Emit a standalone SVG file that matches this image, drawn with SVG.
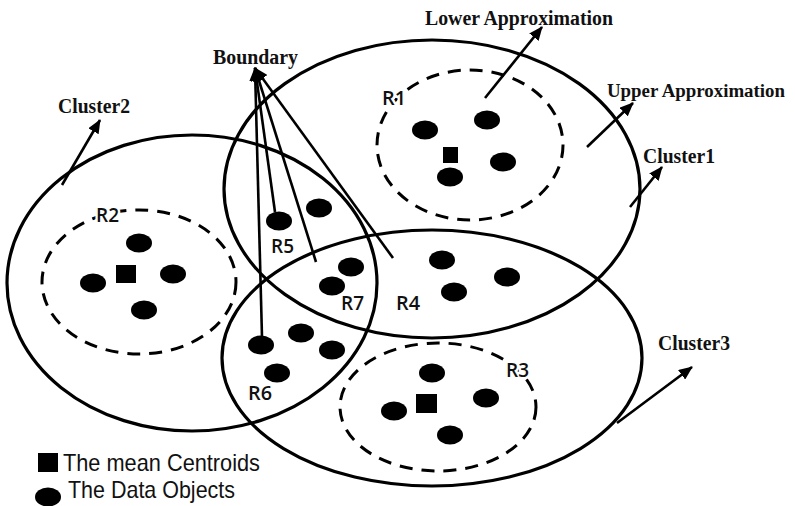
<svg xmlns="http://www.w3.org/2000/svg" width="795" height="506" viewBox="0 0 795 506">
<style>
.cl{fill:none;stroke:#000;stroke-width:3.2}
.dash{fill:none;stroke:#000;stroke-width:3;stroke-dasharray:13 9}
.dot{fill:#000}
.ln{stroke:#000;stroke-width:2.6;fill:none}
.lbl{font-family:"Liberation Serif","Times New Roman",serif;font-weight:bold;font-size:20px;fill:#111}
.r{font-family:"Open Sans","DejaVu Sans",sans-serif;font-weight:600;font-size:20px;fill:#111;stroke:#fff;stroke-width:5;paint-order:stroke;stroke-linejoin:round}
.leg{font-family:"Liberation Sans",Arial,sans-serif;font-size:24px;fill:#111}
</style>
<defs>
<marker id="ah" markerUnits="userSpaceOnUse" markerWidth="14" markerHeight="12" viewBox="0 0 14 12" refX="13" refY="6" orient="auto">
<path d="M0,0 L14,6 L0,12 z" fill="#000"/>
</marker>
</defs>
<rect width="795" height="506" fill="#fff"/>
<g id="cluster1"><ellipse class="cl" cx="432" cy="189" rx="208" ry="149"/></g>
<g id="cluster2"><ellipse class="cl" cx="192" cy="283" rx="185" ry="148"/></g>
<g id="cluster3"><ellipse class="cl" cx="432" cy="358" rx="210" ry="128"/></g>
<g id="R1">
<ellipse class="dash" cx="470" cy="145" rx="93" ry="75"/>
<rect x="443" y="147" width="15" height="16" fill="#000"/>
<ellipse class="dot" cx="425" cy="130" rx="13" ry="9.5"/>
<ellipse class="dot" cx="487" cy="120" rx="13" ry="9.5"/>
<ellipse class="dot" cx="503" cy="162" rx="13" ry="9.5"/>
<ellipse class="dot" cx="450" cy="177" rx="13" ry="9.5"/>
<text class="r" x="382" y="105" textLength="24" lengthAdjust="spacingAndGlyphs">R1</text>
</g>
<g id="R2">
<ellipse class="dash" cx="139" cy="282" rx="97" ry="72"/>
<rect x="116" y="265" width="20" height="18" fill="#000"/>
<ellipse class="dot" cx="139" cy="243" rx="13" ry="9.5"/>
<ellipse class="dot" cx="93" cy="283" rx="13" ry="9.5"/>
<ellipse class="dot" cx="173" cy="274" rx="13" ry="9.5"/>
<ellipse class="dot" cx="144" cy="310" rx="13" ry="9.5"/>
<text class="r" x="96" y="222" textLength="23" lengthAdjust="spacingAndGlyphs">R2</text>
</g>
<g id="R3">
<ellipse class="dash" cx="438" cy="407" rx="98" ry="64"/>
<rect x="416" y="394" width="21" height="19" fill="#000"/>
<ellipse class="dot" cx="432" cy="373" rx="13" ry="9.5"/>
<ellipse class="dot" cx="486" cy="398" rx="13" ry="9.5"/>
<ellipse class="dot" cx="450" cy="435" rx="13" ry="9.5"/>
<ellipse class="dot" cx="394" cy="411" rx="13" ry="9.5"/>
<text class="r" x="506" y="377" textLength="23" lengthAdjust="spacingAndGlyphs">R3</text>
</g>
<g id="R4">
<ellipse class="dot" cx="442" cy="260" rx="13" ry="9.5"/>
<ellipse class="dot" cx="454" cy="292" rx="13" ry="9.5"/>
<ellipse class="dot" cx="507" cy="277" rx="13" ry="9.5"/>
<text class="r" x="396" y="310" textLength="24" lengthAdjust="spacingAndGlyphs">R4</text>
</g>
<g id="R5">
<ellipse class="dot" cx="279" cy="221" rx="13" ry="9.5"/>
<ellipse class="dot" cx="319" cy="208" rx="13" ry="9.5"/>
<text class="r" x="271" y="253" textLength="23" lengthAdjust="spacingAndGlyphs">R5</text>
</g>
<g id="R6">
<ellipse class="dot" cx="261" cy="345" rx="13" ry="9.5"/>
<ellipse class="dot" cx="301" cy="333" rx="13" ry="9.5"/>
<ellipse class="dot" cx="332" cy="350" rx="13" ry="9.5"/>
<ellipse class="dot" cx="277" cy="373" rx="13" ry="9.5"/>
<text class="r" x="248" y="400" textLength="24" lengthAdjust="spacingAndGlyphs">R6</text>
</g>
<g id="R7">
<ellipse class="dot" cx="351" cy="267" rx="13" ry="9.5"/>
<ellipse class="dot" cx="332" cy="286" rx="13" ry="9.5"/>
<text class="r" x="341" y="310" textLength="23" lengthAdjust="spacingAndGlyphs">R7</text>
</g>
<g id="connectors">
<line class="ln" x1="262" y1="337" x2="255" y2="68" marker-end="url(#ah)"/>
<line class="ln" x1="275" y1="212" x2="255" y2="68" marker-end="url(#ah)"/>
<line class="ln" x1="316" y1="262" x2="255" y2="68" marker-end="url(#ah)"/>
<line class="ln" x1="393" y1="258" x2="255" y2="68" marker-end="url(#ah)"/>
<line class="ln" x1="62" y1="185" x2="100" y2="120" marker-end="url(#ah)"/>
<line class="ln" x1="485" y1="98" x2="542" y2="27" marker-end="url(#ah)"/>
<line class="ln" x1="587" y1="147" x2="633" y2="103" marker-end="url(#ah)"/>
<line class="ln" x1="630" y1="207" x2="662" y2="167" marker-end="url(#ah)"/>
<line class="ln" x1="617" y1="423" x2="692" y2="367" marker-end="url(#ah)"/>
</g>
<g id="labels">
<text class="lbl" x="213" y="64" textLength="85" lengthAdjust="spacingAndGlyphs">Boundary</text>
<text class="lbl" x="58" y="113" textLength="72" lengthAdjust="spacingAndGlyphs">Cluster2</text>
<text class="lbl" x="425" y="25" textLength="188" lengthAdjust="spacingAndGlyphs">Lower Approximation</text>
<text class="lbl" x="607" y="97" style="font-size:18px" textLength="178" lengthAdjust="spacingAndGlyphs">Upper Approximation</text>
<text class="lbl" x="643" y="163" textLength="72" lengthAdjust="spacingAndGlyphs">Cluster1</text>
<text class="lbl" x="658" y="350" textLength="72" lengthAdjust="spacingAndGlyphs">Cluster3</text>
</g>
<g id="legend">
<rect x="38" y="453" width="20" height="19" fill="#000"/>
<text class="leg" x="63" y="471" textLength="197" lengthAdjust="spacingAndGlyphs">The mean Centroids</text>
<ellipse class="dot" cx="48" cy="497" rx="13" ry="9.5"/>
<text class="leg" x="68" y="498" textLength="167" lengthAdjust="spacingAndGlyphs">The Data Objects</text>
</g>
</svg>
